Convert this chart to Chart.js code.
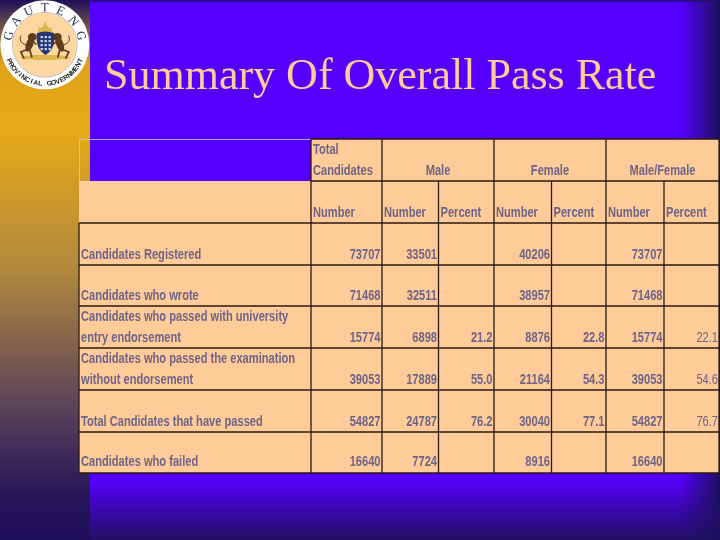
<!DOCTYPE html>
<html><head><meta charset="utf-8">
<style>html,body{margin:0;padding:0;background:#5500ff;overflow:hidden}#w{position:relative;width:720px;height:540px}</style>
<script src="https://cdn.jsdelivr.net/npm/chart.js@4"></script>
</head><body><div id="w"><canvas id="c" width="720" height="540"></canvas></div>
<script>
const titleText = "Summary Of Overall Pass Rate";
const rowLabels = [
  ["Candidates Registered"],
  ["Candidates who wrote"],
  ["Candidates who passed with university","entry endorsement"],
  ["Candidates who passed the examination","without endorsement"],
  ["Total Candidates that have passed"],
  ["Candidates who failed"]
];
const groupHeaders = ["Male","Female","Male/Female"];
const columnHeaders = ["Number","Number","Percent","Number","Percent","Number","Percent"];
const totalNumber   = [73707,71468,15774,39053,54827,16640];
const maleNumber    = [33501,32511,6898,17889,24787,7724];
const malePercent   = ["","","21.2","55.0","76.2",""];
const femaleNumber  = [40206,38957,8876,21164,30040,8916];
const femalePercent = ["","","22.8","54.3","77.1",""];
const allNumber     = [73707,71468,15774,39053,54827,16640];
const allPercent    = ["","","22.1","54.6","76.7",""];
const columns = [totalNumber,maleNumber,malePercent,femaleNumber,femalePercent,allNumber,allPercent];

// layout grid, in page units
const colEdges = [79,311,382,438.5,494,551.5,606,664,719];
const rowEdges = [139,181,223,265,306,348,390,432,473];
const baselineInset = [6,6,6,6,6,7];

const INK = "#6f6488", PEACH = "#ffcc99", FONT = '"Liberation Sans",sans-serif';
const NARROW = 0.74;

function paintBackground(ctx){
  ctx.fillStyle = "#5500ff"; ctx.fillRect(0,0,720,540);
  let g = ctx.createLinearGradient(0,0,0,540);
  g.addColorStop(0,"#1e0f5a"); g.addColorStop(0.055,"#7a5c4a"); g.addColorStop(0.12,"#e0a318");
  g.addColorStop(0.24,"#e6a916"); g.addColorStop(0.5,"#b1883e"); g.addColorStop(0.75,"#5c4358");
  g.addColorStop(0.92,"#251659"); g.addColorStop(1,"#1e0f5a");
  ctx.fillStyle = g; ctx.fillRect(0,0,90,540);
  g = ctx.createLinearGradient(0,478,0,540);
  g.addColorStop(0,"rgba(32,16,100,0)"); g.addColorStop(1,"rgba(32,16,100,1)");
  ctx.fillStyle = g; ctx.fillRect(90,478,630,62);
  g = ctx.createLinearGradient(680,0,720,0);
  g.addColorStop(0,"rgba(30,16,96,0)"); g.addColorStop(1,"rgba(30,16,96,1)");
  ctx.fillStyle = g; ctx.fillRect(680,0,40,540);
  g = ctx.createLinearGradient(0,0,0,3);
  g.addColorStop(0,"rgba(30,16,96,1)"); g.addColorStop(1,"rgba(30,16,96,0)");
  ctx.fillStyle = g; ctx.fillRect(90,0,630,3);
}
function arcText(ctx,str,cx,cy,r,startDeg,stepDeg,bottom){
  str.split("").forEach((ch,i)=>{
    const a=(startDeg+i*stepDeg)*Math.PI/180;
    ctx.save(); ctx.translate(cx+r*Math.cos(a),cy+r*Math.sin(a));
    ctx.rotate(bottom? a-Math.PI/2 : a+Math.PI/2);
    ctx.fillText(ch,0,0); ctx.restore();
  });
}
function lion(ctx,m){
  ctx.save(); ctx.translate(44.8,0); ctx.scale(m,1);
  ctx.fillStyle="#5f3d1c"; ctx.strokeStyle="#5f3d1c"; ctx.lineCap="round";
  ctx.beginPath(); ctx.ellipse(15,44,3.6,8,-0.35,0,7); ctx.fill();
  ctx.beginPath(); ctx.ellipse(12.5,37,4.4,4,0,0,7); ctx.fill();
  ctx.lineWidth=1.7;
  ctx.beginPath(); ctx.moveTo(19,50);ctx.lineTo(24,52);ctx.lineTo(21,58);ctx.stroke();
  ctx.beginPath(); ctx.moveTo(15,50);ctx.lineTo(13,57);ctx.stroke();
  ctx.beginPath(); ctx.moveTo(11,42);ctx.lineTo(9,44);ctx.stroke();
  ctx.lineWidth=1;
  ctx.beginPath(); ctx.moveTo(19,45);ctx.quadraticCurveTo(27,42,24,36);ctx.stroke();
  ctx.restore();
}
function paintLogo(ctx){
  const cx=44.8,cy=44.8;
  ctx.save();
  ctx.fillStyle="#ffffff"; ctx.beginPath(); ctx.arc(cx,cy,44.5,0,7); ctx.fill();
  ctx.strokeStyle="#9a9a9a"; ctx.lineWidth=.8; ctx.beginPath(); ctx.arc(cx,cy,32.3,0,7); ctx.stroke();
  ctx.fillStyle="#fdd6a2"; ctx.beginPath(); ctx.arc(cx,cy,32,0,7); ctx.fill();
  ctx.textAlign="center"; ctx.textBaseline="alphabetic";
  ctx.fillStyle="#27304f"; ctx.font='12.5px "Liberation Serif"';
  arcText(ctx,"GAUTENG",cx,cy,33.5,-166,25.3);
  ctx.fillStyle="#222222"; ctx.font='bold 6.8px "Liberation Sans"';
  arcText(ctx,"PROVINCIAL GOVERNMENT".split("").reverse().join(""),cx,cy,41,24,6.6,true);
  ctx.strokeStyle="#e3cf8a"; ctx.lineWidth=1;
  ctx.beginPath(); ctx.moveTo(36,24);ctx.quadraticCurveTo(39,29,41,32);ctx.moveTo(55,24);ctx.quadraticCurveTo(52,29,50,32);ctx.stroke();
  ctx.fillStyle="#dcb64a"; ctx.beginPath();
  ctx.moveTo(38,32);ctx.lineTo(39,27);ctx.lineTo(42,28);ctx.lineTo(45,21);ctx.lineTo(48,28);ctx.lineTo(51,27);ctx.lineTo(52,32);ctx.closePath();ctx.fill();
  ctx.fillStyle="#dcb64a"; ctx.beginPath(); ctx.ellipse(45,57.5,25,2.6,0,0,7); ctx.fill();
  lion(ctx,-1); lion(ctx,1);
  ctx.fillStyle="#26356f"; ctx.beginPath();
  ctx.moveTo(37,33);ctx.quadraticCurveTo(45,30,54,33);ctx.quadraticCurveTo(56,49,45.5,55);ctx.quadraticCurveTo(35,49,37,33);ctx.fill();
  ctx.fillStyle="#bcd0ee";
  [40.5,44.5,48.5].forEach(x=>{[36,40,44,48].forEach(y=>ctx.fillRect(x,y,2.4,2.2));});
  ctx.restore();
}
function narrowText(ctx,text,x,y,align){
  ctx.save(); ctx.translate(x,y); ctx.scale(NARROW,1); ctx.textAlign=align||"left";
  ctx.fillText(text,0,0); ctx.restore();
}

const tablePlugin = {
  id:"table",
  beforeDraw(chart){ paintBackground(chart.ctx); },
  afterDatasetsDraw(chart){
    const ctx=chart.ctx, X=chart.scales.x, Y=chart.scales.y;
    const px=v=>X.getPixelForValue(v), py=v=>Y.getPixelForValue(v);
    ctx.save();
    ctx.fillStyle=PEACH;
    ctx.fillRect(px(colEdges[0]),py(rowEdges[1]),px(colEdges[8])-px(colEdges[0]),py(rowEdges[8])-py(rowEdges[1]));
    ctx.fillRect(px(colEdges[1]),py(rowEdges[0]),px(colEdges[8])-px(colEdges[1]),py(rowEdges[1])-py(rowEdges[0]));
    ctx.strokeStyle="rgba(205,200,215,.8)"; ctx.lineWidth=1;
    ctx.beginPath(); ctx.moveTo(px(colEdges[0])+.5,py(rowEdges[1]));ctx.lineTo(px(colEdges[0])+.5,py(rowEdges[0])+.5);ctx.lineTo(px(colEdges[1]),py(rowEdges[0])+.5);ctx.stroke();
    ctx.strokeStyle="#2a1a10"; ctx.lineWidth=1.3;
    const line=(a,b,c,d)=>{ctx.beginPath();ctx.moveTo(px(a),py(b));ctx.lineTo(px(c),py(d));ctx.stroke();};
    rowEdges.forEach((r,i)=>{
      if(i<=1) line(colEdges[1],r,colEdges[8],r);
      else line(colEdges[0],r,colEdges[8],r);
    });
    line(colEdges[0],rowEdges[2],colEdges[0],rowEdges[8]);
    line(colEdges[1],rowEdges[0],colEdges[1],rowEdges[8]);
    line(colEdges[2],rowEdges[0],colEdges[2],rowEdges[8]);
    [4,6,8].forEach(c=>line(colEdges[c],rowEdges[0],colEdges[c],rowEdges[8]));
    [3,5,7].forEach(c=>line(colEdges[c],rowEdges[1],colEdges[c],rowEdges[8]));
    ctx.fillStyle=INK; ctx.font='bold 15px '+FONT; ctx.textBaseline="alphabetic";
    narrowText(ctx,"Total",px(colEdges[1])+2,py(154));
    narrowText(ctx,"Candidates",px(colEdges[1])+2,py(175));
    groupHeaders.forEach((h,i)=>{
      const a=colEdges[2+i*2],b=colEdges[4+i*2];
      narrowText(ctx,h,px((a+b)/2),py(175),"center");
    });
    columnHeaders.forEach((h,i)=>narrowText(ctx,h,px(colEdges[i+1])+2,py(217)));
    rowLabels.forEach((lines,i)=>{
      const bottom=rowEdges[i+3];
      lines.forEach((t,k)=>narrowText(ctx,t,px(colEdges[0])+2,py(bottom-baselineInset[i]-(lines.length-1-k)*21)));
    });
    chart.data.datasets.forEach((ds,d)=>{
      const meta=chart.getDatasetMeta(d);
      ctx.fillStyle=INK; ctx.font=(d===6?'':'bold ')+'15px '+FONT;
      meta.data.forEach((el,i)=>{
        const v=columns[d][i];
        if(v!=="") narrowText(ctx,String(v),el.x,el.y,"right");
      });
    });
    ctx.textAlign="left"; ctx.fillStyle=PEACH; ctx.font='44px "Liberation Serif"';
    ctx.fillText(titleText,px(104),py(88.5));
    paintLogo(ctx);
    ctx.restore();
  }
};

new Chart(document.getElementById("c"),{
  type:"scatter",
  data:{datasets:columns.map((col,c)=>({
    label:columnHeaders[c],
    pointRadius:0,
    data:col.map((v,i)=>({x:colEdges[c+2]-(c===6?1:1.5),y:rowEdges[i+3]-baselineInset[i]}))
  }))},
  options:{
    responsive:false,animation:false,events:[],
    layout:{padding:0},
    plugins:{legend:{display:false},tooltip:{enabled:false},title:{display:false}},
    scales:{
      x:{type:"linear",min:0,max:720,display:false},
      y:{type:"linear",min:0,max:540,reverse:true,display:false}
    }
  },
  plugins:[tablePlugin]
});
</script></body></html>
